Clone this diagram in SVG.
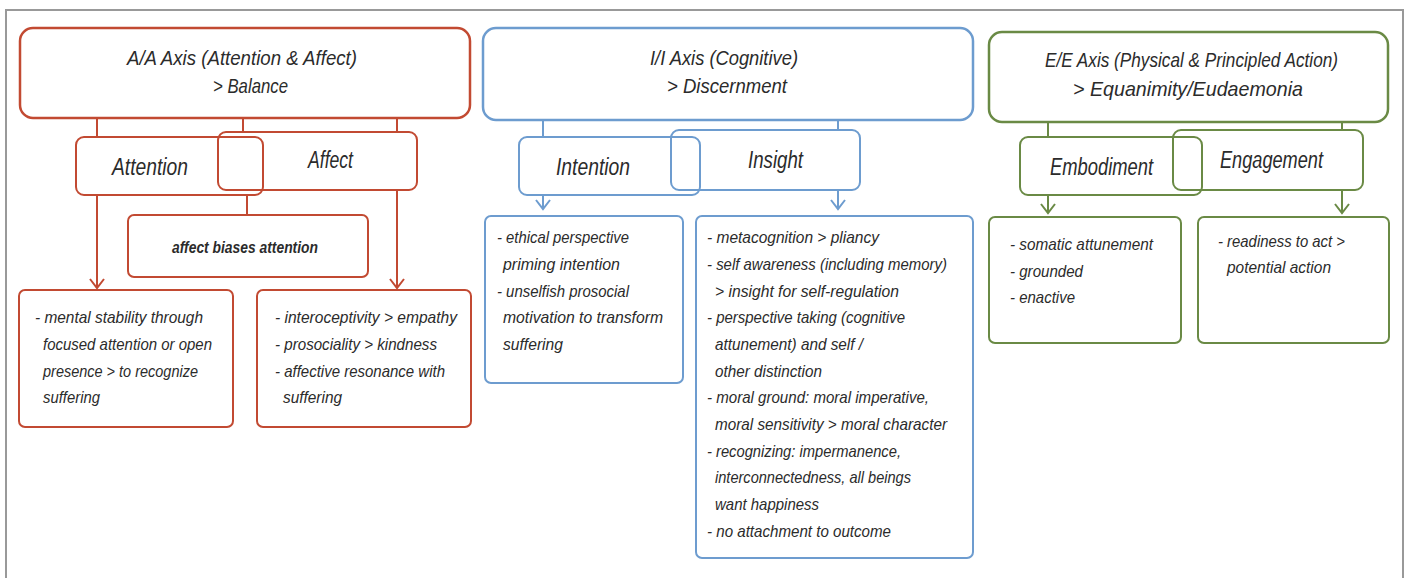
<svg xmlns="http://www.w3.org/2000/svg" width="1410" height="578" viewBox="0 0 1410 578">
  <defs>
    <marker id="arR" markerUnits="userSpaceOnUse" viewBox="-12 -10 14 20" markerWidth="14" markerHeight="20" refX="0" refY="0" orient="auto">
      <path d="M-9,-7 L0,0 L-9,7" fill="none" stroke="#c24a32" stroke-width="2"/>
    </marker>
    <marker id="arB" markerUnits="userSpaceOnUse" viewBox="-12 -10 14 20" markerWidth="14" markerHeight="20" refX="0" refY="0" orient="auto">
      <path d="M-9,-7 L0,0 L-9,7" fill="none" stroke="#6d9ccf" stroke-width="2"/>
    </marker>
    <marker id="arG" markerUnits="userSpaceOnUse" viewBox="-12 -10 14 20" markerWidth="14" markerHeight="20" refX="0" refY="0" orient="auto">
      <path d="M-9,-7 L0,0 L-9,7" fill="none" stroke="#6a8a45" stroke-width="2"/>
    </marker>
  </defs>
  <style>
    text { font-family: "Liberation Sans Narrow", "Liberation Sans", Arial, sans-serif; font-style: italic; fill: #2b2b2b; }
    .title { font-size: 21px; }
    .sub { font-size: 23px; }
    .body { font-size: 17px; }
    .bias { font-size: 17px; font-weight: bold; }
    .red { stroke: #c24a32; fill: none; }
    .blue { stroke: #6d9ccf; fill: none; }
    .green { stroke: #6a8a45; fill: none; }
    .main { stroke-width: 2.5; }
    .box { stroke-width: 2; }
    line { stroke-width: 2; }
  </style>
  <rect x="0" y="0" width="1410" height="578" fill="#ffffff"/>
  <rect x="6" y="10" width="1397" height="600" fill="none" stroke="#999999" stroke-width="2"/>

  <!-- connectors -->
  <g id="connectors">
    <line class="red" x1="97" y1="118" x2="97" y2="137"/>
    <line class="red" x1="243" y1="118" x2="243" y2="132"/>
    <line class="red" x1="397" y1="118" x2="397" y2="132"/>
    <line class="red" x1="97" y1="195" x2="97" y2="288" marker-end="url(#arR)"/>
    <line class="red" x1="247" y1="195" x2="247" y2="215"/>
    <line class="red" x1="397" y1="190" x2="397" y2="288" marker-end="url(#arR)"/>
    <line class="blue" x1="543" y1="120" x2="543" y2="137"/>
    <line class="blue" x1="838" y1="120" x2="838" y2="130"/>
    <line class="blue" x1="543" y1="195" x2="543" y2="209" marker-end="url(#arB)"/>
    <line class="blue" x1="838" y1="190" x2="838" y2="209" marker-end="url(#arB)"/>
    <line class="green" x1="1048" y1="122" x2="1048" y2="137"/>
    <line class="green" x1="1342" y1="122" x2="1342" y2="130"/>
    <line class="green" x1="1048" y1="195" x2="1048" y2="213" marker-end="url(#arG)"/>
    <line class="green" x1="1342" y1="190" x2="1342" y2="213" marker-end="url(#arG)"/>
  </g>

  <!-- A/A axis -->
  <g id="aa-axis">
    <rect class="red main" x="20" y="28" width="450" height="90" rx="13"/>
    <text class="title" x="127" y="65" textLength="230" lengthAdjust="spacingAndGlyphs">A/A Axis (Attention &amp; Affect)</text>
    <text class="title" x="213" y="93" textLength="75" lengthAdjust="spacingAndGlyphs">&gt; Balance</text>
  </g>
  <g id="attention">
    <rect class="red box" x="76" y="137" width="187" height="58" rx="8"/>
    <text class="sub" x="112" y="175" textLength="76" lengthAdjust="spacingAndGlyphs">Attention</text>
  </g>
  <g id="affect">
    <rect class="red box" x="218" y="132" width="199" height="58" rx="8"/>
    <text class="sub" x="308" y="168" textLength="45" lengthAdjust="spacingAndGlyphs">Affect</text>
  </g>
  <g id="affect-biases">
    <rect class="red box" x="128" y="215" width="240" height="62" rx="6"/>
    <text class="bias" x="172" y="253" textLength="146" lengthAdjust="spacingAndGlyphs">affect biases attention</text>
  </g>
  <g id="attention-detail">
    <rect class="red box" x="19" y="290" width="214" height="137" rx="6"/>
    <text class="body" x="35" y="323" textLength="168" lengthAdjust="spacingAndGlyphs">- mental stability through</text>
    <text class="body" x="43" y="350" textLength="169" lengthAdjust="spacingAndGlyphs">focused attention or open</text>
    <text class="body" x="43" y="377" textLength="155" lengthAdjust="spacingAndGlyphs">presence &gt; to recognize</text>
    <text class="body" x="43" y="403" textLength="57" lengthAdjust="spacingAndGlyphs">suffering</text>
  </g>
  <g id="affect-detail">
    <rect class="red box" x="257" y="290" width="214" height="137" rx="6"/>
    <text class="body" x="275" y="323" textLength="182" lengthAdjust="spacingAndGlyphs">- interoceptivity &gt; empathy</text>
    <text class="body" x="275" y="350" textLength="162" lengthAdjust="spacingAndGlyphs">- prosociality &gt; kindness</text>
    <text class="body" x="275" y="377" textLength="170" lengthAdjust="spacingAndGlyphs">- affective resonance with</text>
    <text class="body" x="283" y="403" textLength="59" lengthAdjust="spacingAndGlyphs">suffering</text>
  </g>

  <!-- I/I axis -->
  <g id="ii-axis">
    <rect class="blue main" x="483" y="28" width="490" height="92" rx="13"/>
    <text class="title" x="650" y="65" textLength="148" lengthAdjust="spacingAndGlyphs">I/I Axis (Cognitive)</text>
    <text class="title" x="667" y="93" textLength="120" lengthAdjust="spacingAndGlyphs">&gt; Discernment</text>
  </g>
  <g id="intention">
    <rect class="blue box" x="519" y="137" width="181" height="58" rx="8"/>
    <text class="sub" x="556" y="175" textLength="74" lengthAdjust="spacingAndGlyphs">Intention</text>
  </g>
  <g id="insight">
    <rect class="blue box" x="671" y="130" width="189" height="60" rx="8"/>
    <text class="sub" x="748" y="168" textLength="55" lengthAdjust="spacingAndGlyphs">Insight</text>
  </g>
  <g id="intention-detail">
    <rect class="blue box" x="485" y="216" width="198" height="167" rx="6"/>
    <text class="body" x="497" y="243" textLength="132" lengthAdjust="spacingAndGlyphs">- ethical perspective</text>
    <text class="body" x="503" y="270" textLength="117" lengthAdjust="spacingAndGlyphs">priming intention</text>
    <text class="body" x="497" y="297" textLength="132" lengthAdjust="spacingAndGlyphs">- unselfish prosocial</text>
    <text class="body" x="503" y="323" textLength="160" lengthAdjust="spacingAndGlyphs">motivation to transform</text>
    <text class="body" x="503" y="350" textLength="60" lengthAdjust="spacingAndGlyphs">suffering</text>
  </g>
  <g id="insight-detail">
    <rect class="blue box" x="696" y="216" width="277" height="342" rx="6"/>
    <text class="body" x="707" y="243" textLength="172" lengthAdjust="spacingAndGlyphs">- metacognition &gt; pliancy</text>
    <text class="body" x="707" y="270" textLength="240" lengthAdjust="spacingAndGlyphs">- self awareness (including memory)</text>
    <text class="body" x="715" y="297" textLength="184" lengthAdjust="spacingAndGlyphs">&gt; insight for self-regulation</text>
    <text class="body" x="707" y="323" textLength="198" lengthAdjust="spacingAndGlyphs">- perspective taking (cognitive</text>
    <text class="body" x="715" y="350" textLength="148" lengthAdjust="spacingAndGlyphs">attunement) and self /</text>
    <text class="body" x="715" y="377" textLength="107" lengthAdjust="spacingAndGlyphs">other distinction</text>
    <text class="body" x="707" y="403" textLength="222" lengthAdjust="spacingAndGlyphs">- moral ground: moral imperative,</text>
    <text class="body" x="715" y="430" textLength="232" lengthAdjust="spacingAndGlyphs">moral sensitivity &gt; moral character</text>
    <text class="body" x="707" y="457" textLength="194" lengthAdjust="spacingAndGlyphs">- recognizing: impermanence,</text>
    <text class="body" x="715" y="483" textLength="196" lengthAdjust="spacingAndGlyphs">interconnectedness, all beings</text>
    <text class="body" x="715" y="510" textLength="104" lengthAdjust="spacingAndGlyphs">want happiness</text>
    <text class="body" x="707" y="537" textLength="184" lengthAdjust="spacingAndGlyphs">- no attachment to outcome</text>
  </g>

  <!-- E/E axis -->
  <g id="ee-axis">
    <rect class="green main" x="989" y="32" width="399" height="90" rx="13"/>
    <text class="title" x="1045" y="67" textLength="293" lengthAdjust="spacingAndGlyphs">E/E Axis (Physical &amp; Principled Action)</text>
    <text class="title" x="1073" y="96" textLength="230" lengthAdjust="spacingAndGlyphs">&gt; Equanimity/Eudaemonia</text>
  </g>
  <g id="embodiment">
    <rect class="green box" x="1020" y="137" width="182" height="58" rx="8"/>
    <text class="sub" x="1050" y="175" textLength="103" lengthAdjust="spacingAndGlyphs">Embodiment</text>
  </g>
  <g id="engagement">
    <rect class="green box" x="1173" y="130" width="190" height="60" rx="8"/>
    <text class="sub" x="1220" y="168" textLength="103" lengthAdjust="spacingAndGlyphs">Engagement</text>
  </g>
  <g id="embodiment-detail">
    <rect class="green box" x="989" y="217" width="192" height="126" rx="6"/>
    <text class="body" x="1010" y="250" textLength="143" lengthAdjust="spacingAndGlyphs">- somatic attunement</text>
    <text class="body" x="1010" y="277" textLength="73" lengthAdjust="spacingAndGlyphs">- grounded</text>
    <text class="body" x="1010" y="303" textLength="65" lengthAdjust="spacingAndGlyphs">- enactive</text>
  </g>
  <g id="engagement-detail">
    <rect class="green box" x="1198" y="217" width="191" height="126" rx="6"/>
    <text class="body" x="1218" y="247" textLength="127" lengthAdjust="spacingAndGlyphs">- readiness to act &gt;</text>
    <text class="body" x="1227" y="273" textLength="104" lengthAdjust="spacingAndGlyphs">potential action</text>
  </g>
</svg>
